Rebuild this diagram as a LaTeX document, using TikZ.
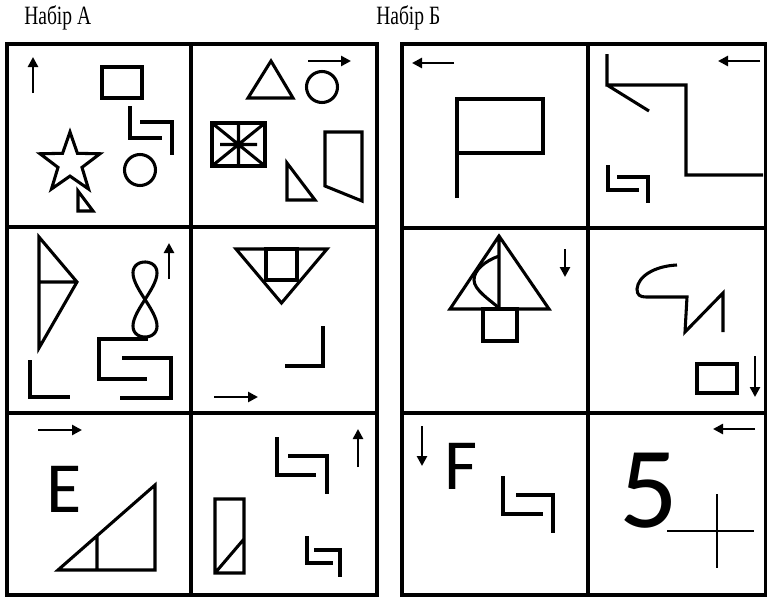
\documentclass[tikz,border=0pt]{standalone}
\usepackage{fontspec}
\newfontfamily\setfont[FakeStretch=0.74]{Liberation Serif}
\newfontfamily\signfont{Carlito}
\usetikzlibrary{arrows.meta}
\tikzset{
  frame/.style  ={line width=2.9pt},
  fig/.style    ={line width=2.3pt},
  fine/.style   ={line width=1.8pt},
  arr/.style    ={-{Triangle[length=7.5pt,width=7.5pt]}, line width=2.2pt},
  setname/.style={font={\setfont\fontsize{19.8pt}{22pt}\selectfont}, inner sep=0pt, anchor=base west},
  sign/.style   ={font={\signfont\fontsize{54pt}{60pt}\selectfont}, inner sep=0pt, anchor=base west},
  digit/.style  ={sign, font={\signfont\fontsize{87pt}{90pt}\selectfont}},
}

\begin{document}
\begin{tikzpicture}[x=0.75pt,y=-0.75pt]
  \useasboundingbox (0,0) rectangle (767,596);
  \node[setname] (titleA) at (24,24) {Набір А};
  \node[setname] (titleB) at (376,24) {Набір Б};

  \draw[frame] (7,44) rectangle (377,595);
  \draw[frame] (191,44) -- (191,595) (7,227) -- (377,227) (7,413) -- (377,413);
  \draw[frame] (402,44) rectangle (766,595);
  \draw[frame] (588,44) -- (588,595) (402,228) -- (766,228) (402,413) -- (766,413);

  \draw[arr] (33,93) -- (33,57);
  \draw[fig] (102,67) rectangle (142,98);
  \draw[fig] (130,106) -- (130,138) -- (162,138) (140,122) -- (172,122) -- (172,155);
  \draw[fig, shift={(70,163.5)}] (-90:31.5)
    \foreach \a/\r in {-54/12.6,-18/31.5,18/12.6,54/31.5,90/12.6,126/31.5,162/12.6,198/31.5,234/12.6} {-- (\a:\r)} -- cycle;
  \draw[fig] (140,170) circle[radius=15.5];
  \draw[fig] (78,191) -- (78,211) -- (93,211) -- cycle;

  \draw[fig] (248,98) -- (271,61) -- (293,98) -- cycle;
  \draw[fig] (322,87) circle[radius=15.5];
  \draw[arr] (308,61) -- (351,61);
  \draw[fig] (212,123) rectangle (265,166);
  \draw[fig] (212,123) -- (265,166) (212,166) -- (265,123) (238.5,123) -- (238.5,166) (220,144.5) -- (257,144.5);
  \draw[fig] (287,163) -- (287,200) -- (315,200) -- cycle;
  \draw[fig] (325,132) -- (362,132) -- (362,201) -- (325,186) -- cycle;

  \draw[fig] (39,237) -- (77,282) -- (39,348) -- cycle (39,282) -- (77,282);
  \draw[fig] plot[domain=0:360, samples=90, smooth] ({145+24*sin(\x)*cos(\x)},{299.5-37.5*sin(\x)});
  \draw[arr] (169,279) -- (169,243);
  \draw[fig] (30,360) -- (30,397) -- (70,397);
  \draw[fig] (148,339) -- (99,339) -- (99,379) -- (147,379) (122,358) -- (171,358) -- (171,398) -- (120,398);

  \draw[fig] (236,249) -- (327,249) -- (281.5,303) -- cycle;
  \draw[fig] (266,249) rectangle (297,280);
  \draw[fig] (323,326) -- (323,366) -- (285,366);
  \draw[arr] (214,397) -- (258,397);

  \draw[arr] (38,430) -- (82,430);
  \node[sign] (letterE) at (46,512) {E};
  \draw[fig] (58,570) -- (155,570) -- (155,485) -- cycle (97,570) -- (97,536);

  \draw[fig] (277,437) -- (277,475) -- (316,475) (288,456) -- (327,456) -- (327,494);
  \draw[arr] (358,467) -- (358,429);
  \draw[fig] (215,499) rectangle (244,573) (215,573) -- (244,539);
  \draw[fig] (307,536) -- (307,563) -- (333,563) (314,550) -- (340,550) -- (340,577);

  \draw[arr] (454,63) -- (412,63);
  \draw[fig] (457,198) -- (457,99) -- (543,99) -- (543,153) -- (457,153);

  \draw[arr] (760,61) -- (718,61);
  \draw[fig] (607,54) -- (607,85) -- (686,85) -- (686,175) -- (763,175) (607,85) -- (649,111);
  \draw[fig] (608,165) -- (608,190) -- (639,190) (617,177) -- (648,177) -- (648,203);

  \draw[fig] (450,309) -- (499,236) -- (549,309) -- cycle (499,236) -- (499,309);
  \draw[fig] (499,256) .. controls (485,261) and (474,270) .. (474,280) .. controls (474,290) and (490,300) .. (499,308);
  \draw[fig] (483,309) rectangle (517,341);
  \draw[arr] (565,249) -- (565,277);

  \draw[fig] (677,265) .. controls (655,266) and (638,276) .. (637,289) .. controls (637,295) and (640,297) .. (646,297) -- (687,297) -- (685,332) -- (723,293) -- (723,332);
  \draw[fig] (697,364) rectangle (737,393);
  \draw[arr] (755,356) -- (755,397);

  \draw[arr] (422,426) -- (422,466);
  \node[sign] (letterF) at (444,489) {F};
  \draw[fig] (503,476) -- (503,514) -- (543,514) (516,495) -- (553,495) -- (553,533);

  \draw[arr] (755,429) -- (713,429);
  \node[digit] (digit5) at (619,527) {5};
  \draw[fine] (667,531) -- (754,531) (717,494) -- (717,568);
\end{tikzpicture}
\end{document}
